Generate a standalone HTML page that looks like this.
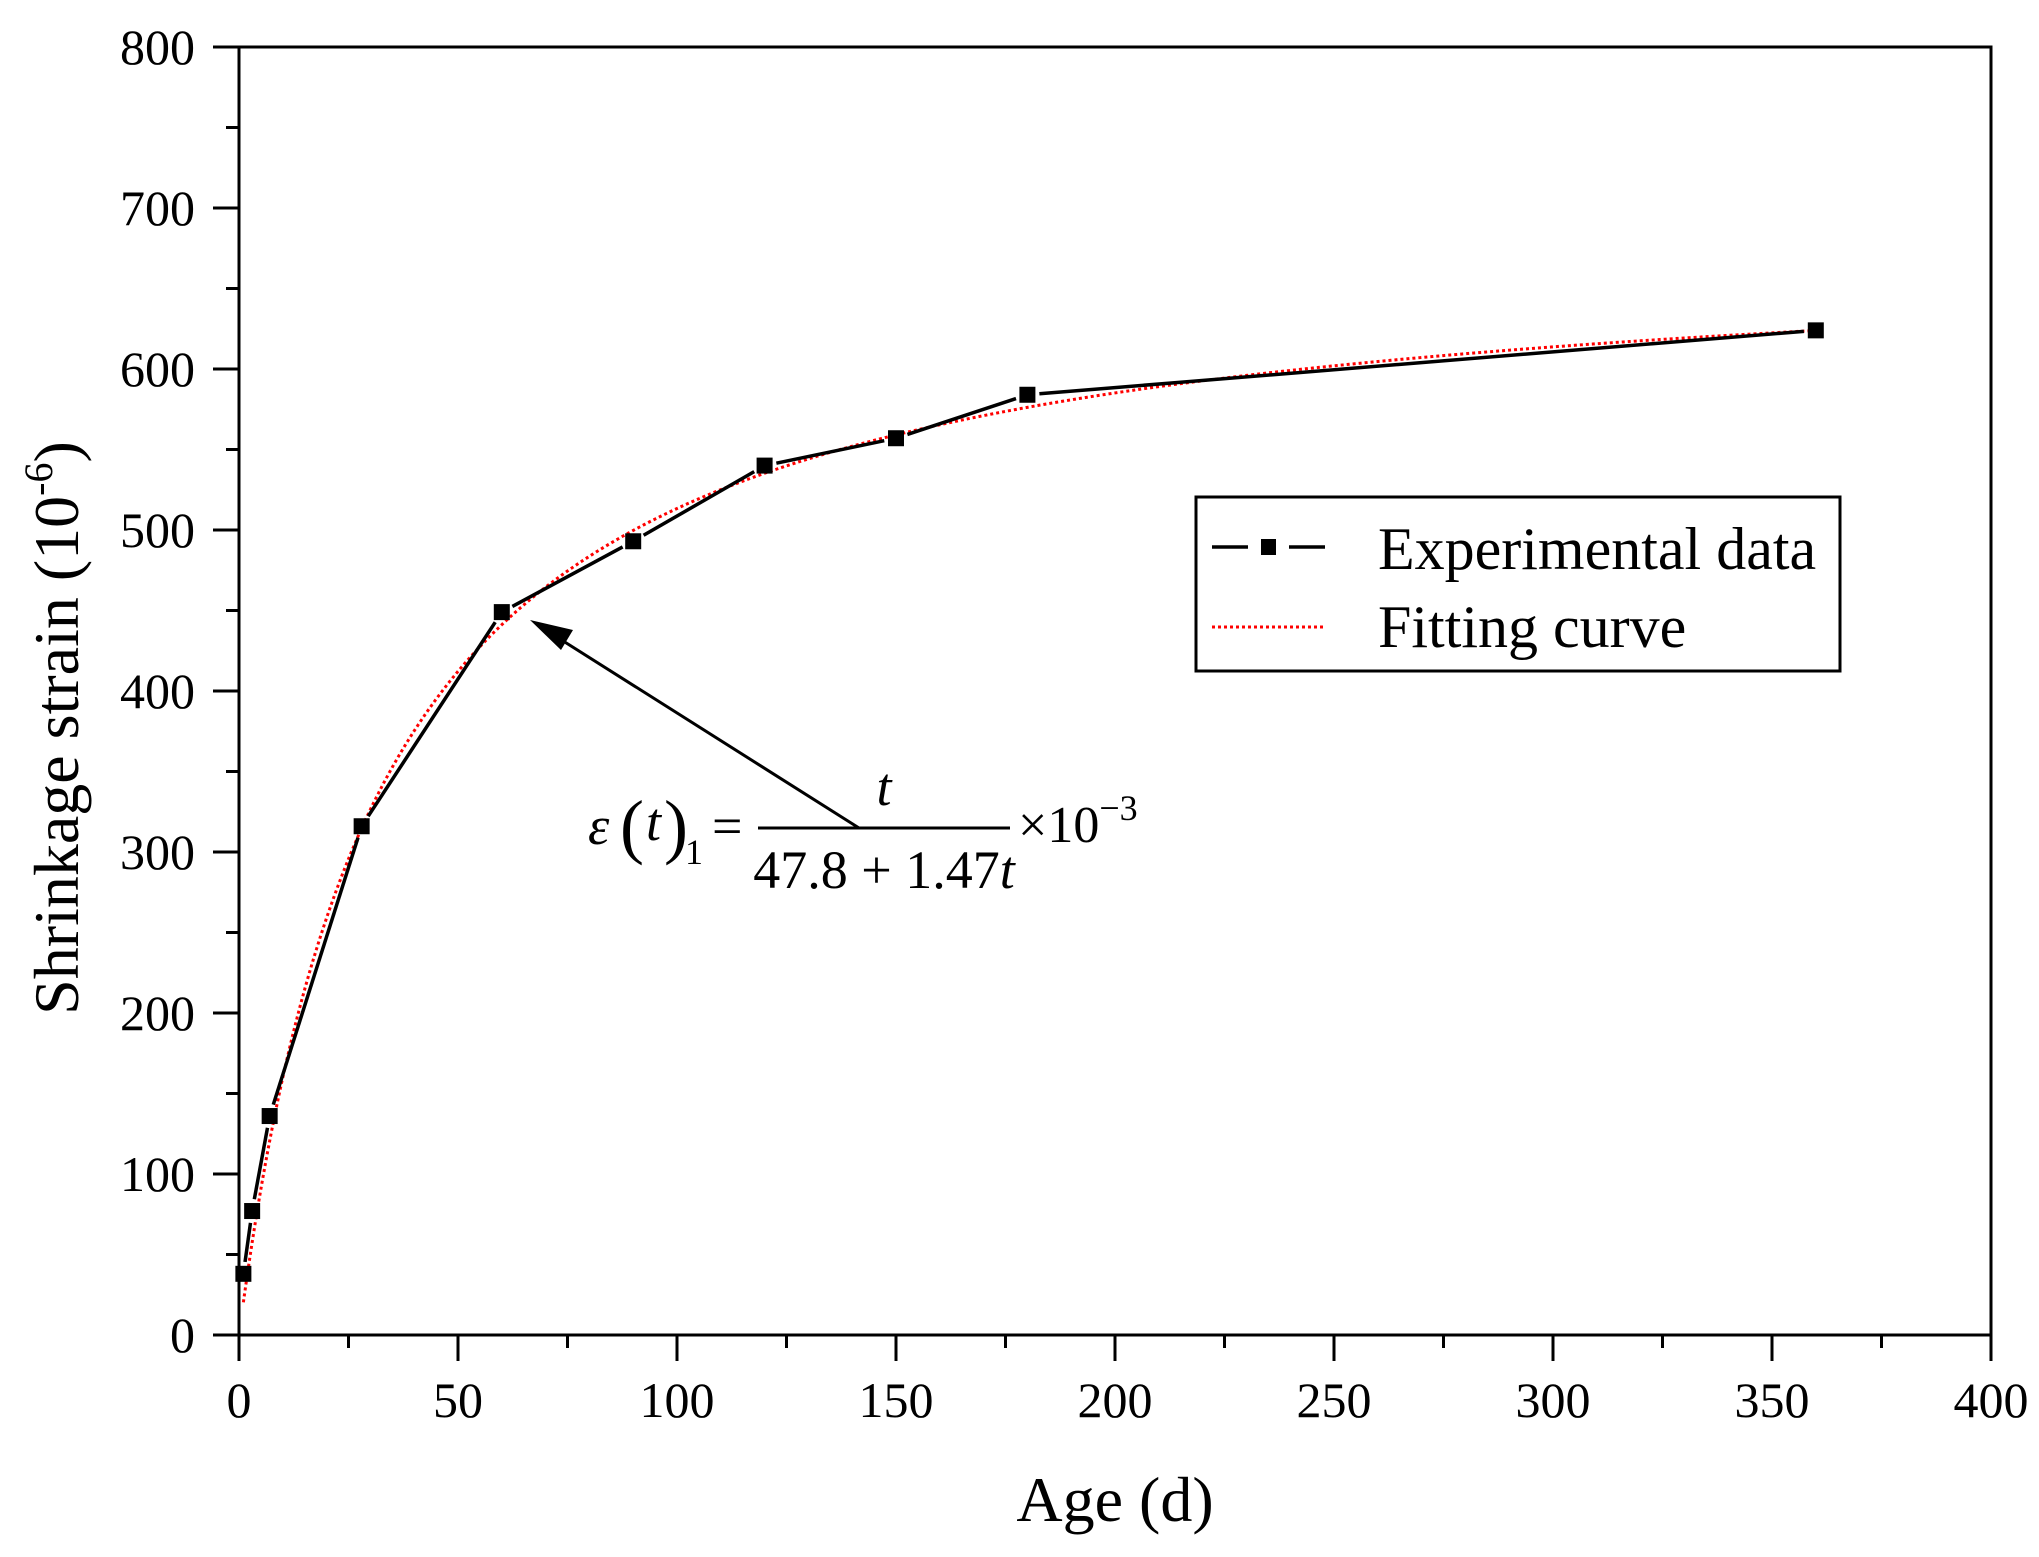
<!DOCTYPE html>
<html><head><meta charset="utf-8"><style>
html,body{margin:0;padding:0;background:#fff}
svg{display:block}
text{font-family:"Liberation Serif",serif;fill:#000}
</style></head><body>
<svg id="chart" width="2039" height="1557" viewBox="0 0 2039 1557" xmlns="http://www.w3.org/2000/svg">
<rect width="2039" height="1557" fill="#fff"/>
<g id="axes"></g>
<g id="series"></g>
<text x="1115" y="1521" font-size="64" text-anchor="middle">Age (d)</text>
<text transform="translate(78,728) rotate(-90)" font-size="64" text-anchor="middle">Shrinkage strain (10<tspan dy="-26" font-size="40">-6</tspan><tspan dy="26">)</tspan></text>
<g>
<rect x="1196" y="497" width="644" height="174" fill="#fff" stroke="#000" stroke-width="3"/>
<line x1="1212" y1="547" x2="1248" y2="547" stroke="#000" stroke-width="3.5"/>
<rect x="1261" y="539" width="15" height="16" fill="#000"/>
<line x1="1289" y1="547" x2="1325" y2="547" stroke="#000" stroke-width="3.5"/>
<text x="1378" y="569" font-size="60">Experimental data</text>
<line x1="1212" y1="627" x2="1325" y2="627" stroke="#f00" stroke-width="3" stroke-dasharray="3,3"/>
<text x="1378" y="647" font-size="60">Fitting curve</text>
</g>
<g>
<line x1="859" y1="828" x2="560" y2="639" stroke="#000" stroke-width="3"/>
<polygon points="530,620 573,630 561,650" fill="#000"/>
<text x="588" y="844" font-size="54" font-style="italic">ε</text>
<text x="620" y="850" font-size="72">(</text>
<text x="646" y="840" font-size="54" font-style="italic">t</text>
<text x="664" y="850" font-size="72">)</text>
<text x="685" y="864" font-size="36">1</text>
<text x="712" y="844" font-size="54">=</text>
<line x1="758" y1="828" x2="1010" y2="828" stroke="#000" stroke-width="3"/>
<text x="884" y="805" font-size="54" font-style="italic" text-anchor="middle">t</text>
<text x="884" y="888" font-size="54" text-anchor="middle">47.8 + 1.47<tspan font-style="italic">t</tspan></text>
<text x="1018" y="842" font-size="52">×10<tspan dy="-22" font-size="36">−3</tspan></text>
</g>
</svg>
<script>
const xTicks = [0,50,100,150,200,250,300,350,400];
const yTicks = [0,100,200,300,400,500,600,700,800];
const ages = [1,3,7,28,60,90,120,150,180,360];
const strains = [38,77,136,316,449,493,540,557,584,624];
const fitParams = [47.8,1.47];
const NS="http://www.w3.org/2000/svg";
const X0=239,X1=1991,Y0=1335,Y1=47;
const sx=v=>X0+(v-0)/(400-0)*(X1-X0);
const sy=v=>Y0-(v-0)/(800-0)*(Y0-Y1);
function mk(tag,attrs,parent){const e=document.createElementNS(NS,tag);for(const k in attrs)e.setAttribute(k,attrs[k]);parent.appendChild(e);return e;}
const axes=document.getElementById('axes'),series=document.getElementById('series');
let fr=mk('rect',{x:X0,y:Y1,width:X1-X0,height:Y0-Y1,fill:'none',stroke:'#000','stroke-width':3},axes);


xTicks.forEach((v,i)=>{
  const x=sx(v);
  let t=mk('line',{x1:x,y1:Y0,x2:x,y2:Y0+26,stroke:'#000','stroke-width':3},axes);
  
  
  let l=mk('text',{x:x,y:1417,'font-size':50,'text-anchor':'middle'},axes);l.textContent=v;
  
  
  if(i<xTicks.length-1){const xm=sx(v+25);
    let m=mk('line',{x1:xm,y1:Y0,x2:xm,y2:Y0+13,stroke:'#000','stroke-width':3},axes);
    
    }
});
yTicks.forEach((v,i)=>{
  const y=sy(v);
  let t=mk('line',{x1:X0-26,y1:y,x2:X0,y2:y,stroke:'#000','stroke-width':3},axes);
  
  
  let l=mk('text',{x:195,y:y+17,'font-size':50,'text-anchor':'end'},axes);l.textContent=v;
  
  
  if(i<yTicks.length-1){const ym=sy(v+50);
    let m=mk('line',{x1:X0-13,y1:ym,x2:X0,y2:ym,stroke:'#000','stroke-width':3},axes);
    
    }
});
let pts=[];
for(let t=ages[0];t<=ages[ages.length-1];t+=0.5){pts.push(sx(t)+','+sy(t/(fitParams[0]+fitParams[1]*t)*1000));}
let fc=mk('polyline',{points:pts.join(' '),fill:'none',stroke:'#f00','stroke-width':3,'stroke-dasharray':'3,3'},series);


for(let i=0;i<ages.length-1;i++){
  const ax=sx(ages[i]),ay=sy(strains[i]),bx=sx(ages[i+1]),by=sy(strains[i+1]);
  const d=Math.hypot(bx-ax,by-ay),g=12;
  if(d<=2*g)continue;
  const ux=(bx-ax)/d,uy=(by-ay)/d;
  let s=mk('line',{x1:ax+ux*g,y1:ay+uy*g,x2:bx-ux*g,y2:by-uy*g,stroke:'#000','stroke-width':3.5},series);
  
  
}
ages.forEach((a,i)=>{
  let m=mk('rect',{x:sx(a)-8,y:sy(strains[i])-8,width:16,height:16,fill:'#000'},series);
  
  
});
</script>
</body></html>
